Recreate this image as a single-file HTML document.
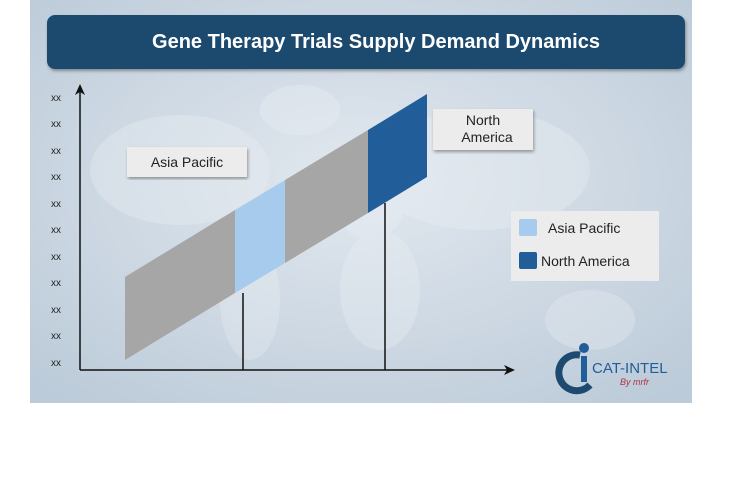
<!DOCTYPE html>
<html><head><style>
body{margin:0;width:755px;height:477px;background:#fff;overflow:hidden;font-family:"Liberation Sans",sans-serif}
</style></head><body>
<svg width="755" height="477" xmlns="http://www.w3.org/2000/svg">
<defs>
<radialGradient id="bg" cx="0.5" cy="0.45" r="0.7">
<stop offset="0" stop-color="#e2e8ef"/><stop offset="1" stop-color="#bccbd9"/>
</radialGradient>
<filter id="sh"><feDropShadow dx="1" dy="2" stdDeviation="1.5" flood-opacity="0.35"/></filter>
</defs>
<rect x="30" y="0" width="662" height="403" fill="url(#bg)"/>
<g fill="#eef2f6" opacity="0.3">
<ellipse cx="180" cy="170" rx="90" ry="55"/><ellipse cx="250" cy="300" rx="30" ry="60"/>
<ellipse cx="300" cy="110" rx="40" ry="25"/><ellipse cx="370" cy="200" rx="35" ry="40"/>
<ellipse cx="380" cy="290" rx="40" ry="60"/><ellipse cx="480" cy="170" rx="110" ry="60"/>
<ellipse cx="590" cy="320" rx="45" ry="30"/>
</g>
<rect x="47" y="15" width="638" height="54" rx="8" fill="#1d4a6e" filter="url(#sh)"/>
<text x="376" y="48" text-anchor="middle" fill="#fff" font-size="20" font-weight="bold">Gene Therapy Trials Supply Demand Dynamics</text>
<g font-size="10" fill="#222">
<text x="51" y="101">xx</text><text x="51" y="127">xx</text><text x="51" y="154">xx</text><text x="51" y="180">xx</text><text x="51" y="207">xx</text><text x="51" y="233">xx</text><text x="51" y="260">xx</text><text x="51" y="286">xx</text><text x="51" y="313">xx</text><text x="51" y="339">xx</text><text x="51" y="366">xx</text>
</g>
<polygon points="125,277 235,210 235,293 125,360" fill="#a6a6a6"/>
<polygon points="235,210 285,180 285,263 235,293" fill="#a7cbec"/>
<polygon points="285,180 368,130 368,213 285,263" fill="#a6a6a6"/>
<polygon points="368,130 427,94 427,177 368,213" fill="#215d99"/>
<g stroke="#111" stroke-width="1.5" fill="none">
<line x1="80" y1="370" x2="80" y2="90"/>
<line x1="80" y1="370" x2="508" y2="370"/>
<line x1="243" y1="293" x2="243" y2="370"/>
<line x1="385" y1="203" x2="385" y2="370"/>
</g>
<polygon points="75,95 80,84 85,95 80,92" fill="#111"/>
<polygon points="504,365 515,370 504,375 507,370" fill="#111"/>
<rect x="127" y="147" width="120" height="30" fill="#ececec" filter="url(#sh)"/>
<text x="187" y="167" text-anchor="middle" font-size="14" fill="#222">Asia Pacific</text>
<rect x="433" y="109" width="100" height="41" fill="#ececec" filter="url(#sh)"/>
<text x="483" y="125" text-anchor="middle" font-size="14" fill="#222">North</text>
<text x="487" y="142" text-anchor="middle" font-size="14" fill="#222">America</text>
<rect x="511" y="211" width="148" height="70" fill="#ececec"/>
<rect x="519" y="219" width="18" height="17" rx="2" fill="#a7cbec"/>
<text x="548" y="233" font-size="14" fill="#222">Asia Pacific</text>
<rect x="519" y="252" width="18" height="17" rx="2" fill="#215d99"/>
<text x="541" y="266" font-size="14" fill="#222">North America</text>
<circle cx="584" cy="348" r="5" fill="#215d99"/>
<path d="M580,355 A18,18 0 1,0 590,385" fill="none" stroke="#1d4a6e" stroke-width="7"/>
<rect x="581" y="356" width="6" height="26" fill="#215d99"/>
<text x="592" y="373" font-size="15" fill="#215d99">CAT-INTEL</text>
<text x="620" y="385" font-size="9" font-style="italic" fill="#b03040">By mrfr</text>
</svg>
</body></html>
